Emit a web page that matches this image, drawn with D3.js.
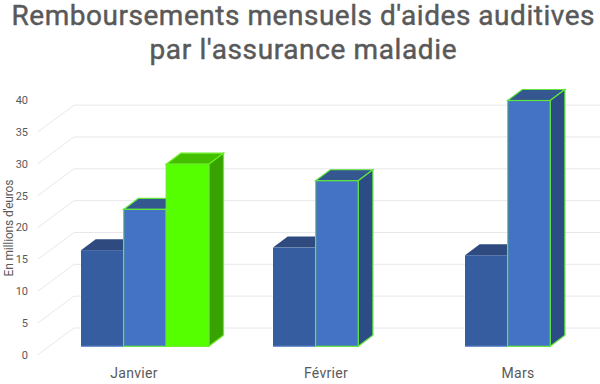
<!DOCTYPE html>
<html><head><meta charset="utf-8">
<script src="https://cdn.jsdelivr.net/npm/d3@7"></script>
<style>html,body{margin:0;padding:0;background:#fff}svg{display:block}text{font-family:Roboto,sans-serif}</style>
</head><body><svg id="c" width="600" height="384"></svg>
<script>
const titleLines = ["Remboursements mensuels d'aides auditives", "par l'assurance maladie"];
const titleWidths = [583, 307];
const axisTitle = "En millions d'euros";
const categories = ["Janvier", "Février", "Mars"];
const seriesA = [15.1, 15.5, 14.3];
const seriesB = [21.5, 26.0, 38.6];
const seriesC = [28.6, null, null];
const yTicks = [0, 5, 10, 15, 20, 25, 30, 35, 40];
const gridTicks = [0, 5, 10, 15, 20, 25, 30, 35];
const styles = [
  {front:"#355d9f", top:"#2e4a7e", side:"#2d4c85", stroke:"#6f93cf", faceStroke:"none"},
  {front:"#4472c4", top:"#34578f", side:"#2d4c85", stroke:"#5fe63c", faceStroke:"#5fe63c"},
  {front:"#55ff00", top:"#44bf00", side:"#38a300", stroke:"#66ee22", faceStroke:"#66ee22"}
];
const svg = d3.select("#c");
const ink = "#595959";
const depthX = 36, depthY = 26.7, barDX = 14.7, barDY = 11, baseShift = 8.4;
const y = d3.scaleLinear().domain([0, 40]).range([354.7, 100]);
const x = d3.scaleBand().domain(categories).range([38, 614]);
const slot = d3.scaleBand().domain([0, 1, 2]).range([43, 170.8]);

svg.selectAll(".t").data(titleLines).join("text")
  .attr("x", 303).attr("y", (d, i) => 24.5 + i * 34).attr("text-anchor", "middle")
  .attr("fill", ink).attr("stroke", ink).attr("stroke-width", 0.45).attr("font-size", 28).attr("font-weight", 400)
  .attr("textLength", (d, i) => titleWidths[i]).attr("lengthAdjust", "spacing").text(d => d);

svg.append("text").attr("transform", "translate(13,228) rotate(-90)").attr("text-anchor", "middle")
  .attr("fill", ink).attr("font-size", 12).attr("textLength", 97).attr("lengthAdjust", "spacing").text(axisTitle);

svg.selectAll(".yl").data(yTicks).join("text")
  .attr("x", 28).attr("y", d => y(d) + 4).attr("text-anchor", "end")
  .attr("fill", ink).attr("font-size", 11).text(d => d);

const g = svg.append("g").attr("stroke", "#e8e8e8").attr("fill", "none");
gridTicks.forEach(t => {
  g.append("path").attr("d", d3.line()([[38, y(t)], [38 + depthX, y(t) - depthY], [600, y(t) - depthY]]));
});

svg.selectAll(".cl").data(categories).join("text")
  .attr("x", d => x(d) + x.bandwidth() / 2).attr("y", 378).attr("text-anchor", "middle")
  .attr("fill", ink).attr("font-size", 14).attr("letter-spacing", 0.3).text(d => d);

const line = d3.line();
[seriesA, seriesB, seriesC].forEach((vals, si) => {
  const s = styles[si];
  vals.forEach((v, ci) => {
    if (v == null) return;
    const x0 = x(categories[ci]) + slot(si), x1 = x0 + slot.bandwidth();
    const yb = y(0) - baseShift, yt = y(v) - baseShift;
    const b = svg.append("g").attr("stroke-width", 1.2);
    b.append("path").attr("d", line([[x0, yt], [x0 + barDX, yt - barDY], [x1 + barDX, yt - barDY], [x1, yt]]) + "Z")
      .attr("fill", s.top).attr("stroke", s.faceStroke);
    b.append("path").attr("d", line([[x1, yt], [x1 + barDX, yt - barDY], [x1 + barDX, yb - barDY], [x1, yb]]) + "Z")
      .attr("fill", s.side).attr("stroke", s.faceStroke);
    b.append("rect").attr("x", x0).attr("y", yt).attr("width", x1 - x0).attr("height", yb - yt)
      .attr("fill", s.front).attr("stroke", s.faceStroke);
    if (s.faceStroke === "none") {
      b.append("path").attr("d", line([[x0, yb], [x1, yb]])).attr("stroke", s.stroke);
    }
  });
});
</script></body></html>
